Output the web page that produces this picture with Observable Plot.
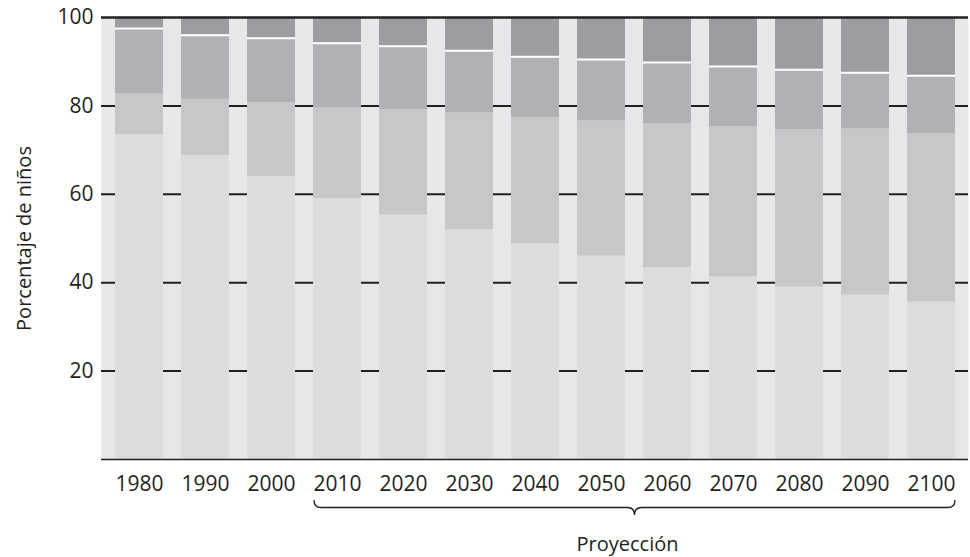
<!DOCTYPE html>
<html>
<head>
<meta charset="utf-8">
<script src="https://cdn.jsdelivr.net/npm/d3@7"></script>
<script src="https://cdn.jsdelivr.net/npm/@observablehq/plot@0.6"></script>
<style>
  html, body { margin: 0; padding: 0; background: #fff; }
  #chart { width: 970px; height: 557px; }
</style>
</head>
<body>
<div id="chart"></div>
<script>
// Years (categories)
const years = ["1980","1990","2000","2010","2020","2030","2040","2050","2060","2070","2080","2090","2100"];
// Segment shares (%), bottom to top
const seg1 = [73.5, 68.8, 64.0, 59.0, 55.3, 52.0, 48.8, 46.0, 43.4, 41.3, 39.0, 37.2, 35.6];
const seg2 = [9.2, 12.7, 16.7, 20.6, 23.8, 26.4, 28.5, 30.6, 32.5, 34.0, 35.6, 37.6, 38.1];
const seg3 = [14.8, 14.5, 14.6, 14.6, 14.4, 14.1, 13.8, 13.9, 13.9, 13.6, 13.6, 12.7, 13.1];
const seg4 = [2.5, 4.0, 4.7, 5.8, 6.5, 7.5, 8.9, 9.5, 10.2, 11.1, 11.8, 12.5, 13.2];
const yTicks = [20, 40, 60, 80, 100];
const series = ["s1", "s2", "s3", "s4"];
const colors = ["#dbdcde", "#c6c7c9", "#b0b1b4", "#9c9da0"];
const yLabel = "Porcentaje de niños";
const projLabel = "Proyección";
const projFrom = "2010", projTo = "2100";

const segs = [seg1, seg2, seg3, seg4];
const table = [];
years.forEach((yr, i) => {
  segs.forEach((s, k) => table.push({year: yr, serie: series[k], value: s[i]}));
});
const whiteLine = years.map((yr, i) => ({year: yr, top: seg1[i] + seg2[i] + seg3[i]}));

const ink = "#231f20";

function brace(index, scales, values, dimensions) {
  const x = scales.x;
  const bw = x.bandwidth ? x.bandwidth() : 0;
  const x0 = x(projFrom) + 1;
  const x1 = x(projTo) + bw;
  const xm = (x0 + x1) / 2;
  const y0 = dimensions.height - dimensions.marginBottom;
  const yTop = y0 + 41, yMid = y0 + 48.5, yTip = y0 + 56;
  const r = 7;
  const g = d3.create("svg:g");
  const p = `M${x0},${yTop} Q${x0},${yMid} ${x0 + r},${yMid} L${xm - r},${yMid} Q${xm},${yMid} ${xm},${yTip} Q${xm},${yMid} ${xm + r},${yMid} L${x1 - r},${yMid} Q${x1},${yMid} ${x1},${yTop}`;
  g.append("path").attr("d", p).attr("fill", "none").attr("stroke", ink).attr("stroke-width", 1.3);
  g.append("text").attr("x", xm - 7).attr("y", y0 + 92)
    .attr("text-anchor", "middle").attr("fill", ink)
    .style("font-size", "20px").style("font-family", "'Open Sans', sans-serif")
    .text(projLabel);
  return g.node();
}

const plot = Plot.plot({
  width: 970,
  height: 557,
  marginLeft: 101,
  marginRight: 2,
  marginTop: 17,
  marginBottom: 98,
  style: {fontFamily: "'Open Sans', sans-serif", fontSize: "21px", color: ink, background: "#fff", overflow: "visible"},
  x: {domain: years, paddingInner: 0.28, paddingOuter: 0.14, label: null},
  y: {domain: [0, 100], label: null},
  color: {domain: series, range: colors},
  marks: [
    Plot.frame({fill: "#e6e7e8", stroke: null}),
    Plot.ruleY(yTicks.filter(d => d < 100), {stroke: ink, strokeWidth: 2}),
    Plot.barY(table, {x: "year", y: "value", fill: "serie", inset: 0}),
    Plot.tickY(whiteLine, {x: "year", y: "top", stroke: "#fff", strokeWidth: 2}),
    Plot.ruleY([100], {stroke: ink, strokeWidth: 2.5}),
    Plot.ruleY([0], {stroke: ink, strokeWidth: 1.5}),
    Plot.axisY({ticks: yTicks, tickSize: 0, tickPadding: 8, label: null, fontSize: 21, fill: ink}),
    Plot.axisX({tickSize: 0, tickPadding: 17, label: null, fontSize: 21, fill: ink}),
    Plot.text([yLabel], {frameAnchor: "left", textAnchor: "middle", rotate: -90, dx: -77, fontSize: 20, fill: ink}),
    brace
  ]
});
document.getElementById("chart").appendChild(plot);
</script>
</body>
</html>
